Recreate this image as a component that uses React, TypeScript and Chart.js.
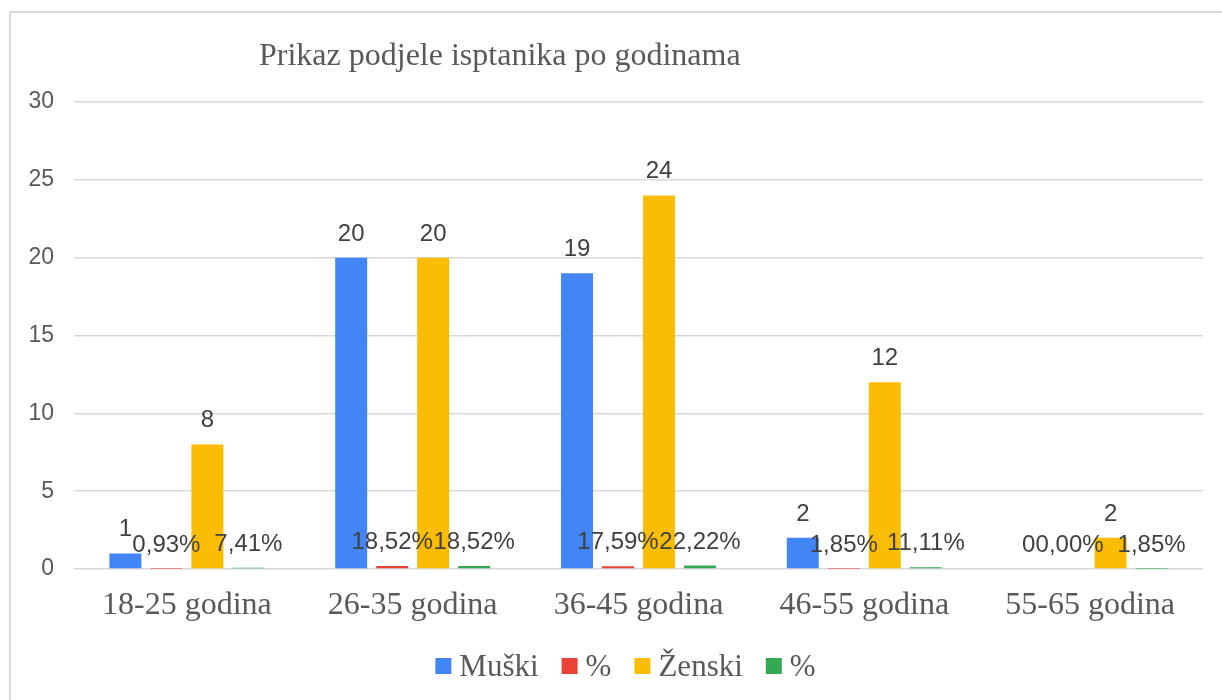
import { useEffect, useRef } from "react";
import { Chart, registerables } from "chart.js";

Chart.register(...registerables);

const chartTitle = "Prikaz podjele isptanika po godinama";
const categories = ["18-25 godina", "26-35 godina", "36-45 godina", "46-55 godina", "55-65 godina"];
const muski = [1, 20, 19, 2, 0];
const muskiPct = [0.0093, 0.1852, 0.1759, 0.0185, 0];
const zenski = [8, 20, 24, 12, 2];
const zenskiPct = [0.0741, 0.1852, 0.2222, 0.1111, 0.0185];
const seriesLabels = ["Muški", "%", "Ženski", "%"];
const seriesColors = ["#4285F4", "#EA4335", "#FBBC04", "#34A853"];
const seriesIsPct = [false, true, false, true];
const yMin = 0;
const yMax = 30;
const yStep = 5;

const SANS = '"Liberation Sans", Arial, sans-serif';
const SERIF = '"Liberation Serif", "Times New Roman", serif';

function fmtPct(v: number) {
  return (v * 100).toFixed(2).replace(".", ",") + "%";
}

const valueLabelPlugin = {
  id: "valueLabels",
  afterDatasetsDraw(chart: any) {
    const ctx = chart.ctx;
    ctx.save();
    ctx.font = `24px ${SANS}`;
    ctx.fillStyle = "#404040";
    ctx.textAlign = "center";
    ctx.textBaseline = "alphabetic";
    chart.data.datasets.forEach((ds: any, i: number) => {
      const meta = chart.getDatasetMeta(i);
      meta.data.forEach((el: any, j: number) => {
        const v = ds.data[j] as number;
        const text = seriesIsPct[i] ? fmtPct(v) : String(v);
        ctx.fillText(text, el.x, el.y - 17);
      });
    });
    ctx.restore();
  },
};

const titleLegendPlugin = {
  id: "titleLegend",
  afterDraw(chart: any) {
    const ctx = chart.ctx;
    ctx.save();
    // title
    ctx.font = `32px ${SERIF}`;
    ctx.fillStyle = "#595959";
    ctx.textAlign = "left";
    ctx.textBaseline = "alphabetic";
    ctx.fillText(chartTitle, 259, 65);

    // legend
    ctx.font = `31px ${SERIF}`;
    const box = 16;
    const gap = 8;
    const spacing = 23;
    const items = chart.data.datasets.map((ds: any) => ({
      text: ds.label as string,
      color: ds.backgroundColor as string,
      w: ctx.measureText(ds.label).width,
    }));
    let total = 0;
    items.forEach((it: any, i: number) => {
      total += box + gap + it.w + (i < items.length - 1 ? spacing : 0);
    });
    const center = (chart.chartArea.left + chart.chartArea.right) / 2 - 13;
    let x = center - total / 2;
    items.forEach((it: any) => {
      ctx.fillStyle = it.color;
      ctx.fillRect(x, 658, box, box);
      ctx.fillStyle = "#595959";
      ctx.fillText(it.text, x + box + gap, 676);
      x += box + gap + it.w + spacing;
    });
    ctx.restore();
  },
};

export default function App() {
  const ref = useRef<HTMLCanvasElement | null>(null);

  useEffect(() => {
    if (!ref.current) return;
    const series = [muski, muskiPct, zenski, zenskiPct];
    const chart = new Chart(ref.current, {
      type: "bar",
      data: {
        labels: categories,
        datasets: series.map((d, i) => ({
          label: seriesLabels[i],
          data: d,
          backgroundColor: seriesColors[i],
          borderWidth: 0,
          barPercentage: 0.78,
          categoryPercentage: 0.7263,
        })),
      },
      options: {
        animation: false,
        responsive: false,
        maintainAspectRatio: false,
        layout: { padding: { left: 0, right: 19, top: 102, bottom: 0 } },
        plugins: {
          legend: { display: false },
          title: { display: false },
          tooltip: { enabled: false },
        },
        scales: {
          x: {
            grid: { display: false, drawTicks: false },
            border: { display: false },
            ticks: {
              font: { family: SERIF, size: 32 },
              color: "#595959",
              padding: 17,
              maxRotation: 0,
              autoSkip: false,
            },
            afterFit(scale: any) {
              scale.height = 131;
            },
          },
          y: {
            min: yMin,
            max: yMax,
            ticks: {
              stepSize: yStep,
              font: { family: SANS, size: 23 },
              color: "#595959",
              padding: 20,
            },
            grid: { color: "#d9d9d9", lineWidth: 1.5, drawTicks: false },
            border: { display: false },
            afterFit(scale: any) {
              scale.width = 74;
            },
          },
        },
      },
      plugins: [valueLabelPlugin, titleLegendPlugin],
    });
    return () => chart.destroy();
  }, []);

  return (
    <div style={{ position: "fixed", left: 0, top: 0, width: 1222, height: 700, overflow: "hidden", background: "#fff" }}>
      <div
        style={{
          position: "absolute",
          left: 9,
          top: 11,
          width: 1260,
          height: 740,
          border: "2px solid #d9d9d9",
          boxSizing: "border-box",
        }}
      />
      <canvas ref={ref} width={1222} height={700} style={{ position: "absolute", left: 0, top: 0, width: 1222, height: 700 }} />
    </div>
  );
}
